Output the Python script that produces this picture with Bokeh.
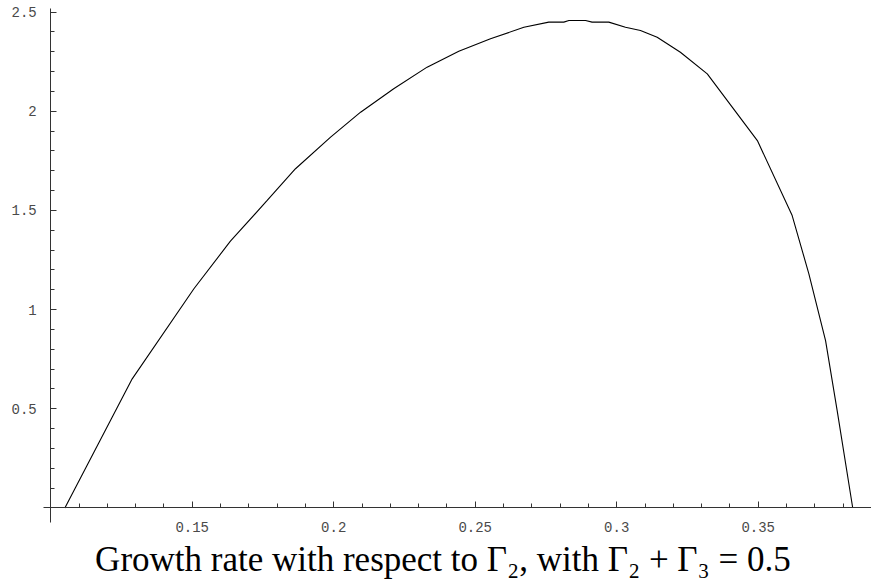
from bokeh.plotting import figure
from bokeh.models import Range1d, LinearAxis, FixedTicker, Label
from bokeh.embed import file_html
from bokeh.resources import INLINE

# ---- data ----
gamma2 = [0.1050, 0.1288, 0.1506, 0.1635, 0.1765, 0.1865, 0.1989, 0.2095, 0.2212,
          0.2330, 0.2442, 0.2554, 0.2672, 0.2760, 0.2813, 0.2831, 0.2890, 0.2913,
          0.2972, 0.3031, 0.3084, 0.3143, 0.3225, 0.3320, 0.3497, 0.3620, 0.3679,
          0.3738, 0.3779, 0.3834]
growth = [0.000, 0.651, 1.105, 1.345, 1.550, 1.710, 1.869, 1.995, 2.113,
          2.222, 2.302, 2.365, 2.423, 2.449, 2.449, 2.457, 2.457, 2.449,
          2.449, 2.423, 2.407, 2.373, 2.297, 2.188, 1.852, 1.474, 1.180,
          0.844, 0.491, 0.000]

x_ticks = [0.15, 0.2, 0.25, 0.3, 0.35]
x_tick_labels = ["0.15", "0.2", "0.25", "0.3", "0.35"]
x_minor_ticks = [0.11, 0.12, 0.13, 0.14, 0.16, 0.17, 0.18, 0.19, 0.21, 0.22, 0.23, 0.24,
                 0.26, 0.27, 0.28, 0.29, 0.31, 0.32, 0.33, 0.34, 0.36, 0.37, 0.38]
y_ticks = [0.5, 1.0, 1.5, 2.0, 2.5]
y_tick_labels = ["0.5", "1", "1.5", "2", "2.5"]
y_minor_ticks = [0.1, 0.2, 0.3, 0.4, 0.6, 0.7, 0.8, 0.9, 1.1, 1.2, 1.3, 1.4,
                 1.6, 1.7, 1.8, 1.9, 2.1, 2.2, 2.3, 2.4]
caption = "Growth rate with respect to Γ₂, with Γ₂ + Γ₃ = 0.5"

p = figure(width=871, height=586,
           x_range=Range1d(0.08226, 0.39003), y_range=Range1d(-0.3957, 2.5580),
           x_axis_type=None, y_axis_type=None,
           output_backend="svg", toolbar_location=None, min_border=0)
p.title.visible = False
p.outline_line_color = None
p.background_fill_color = "white"
p.border_fill_color = "white"

def style(ax):
    ax.axis_line_color = "#333333"
    ax.axis_line_width = 1
    ax.major_tick_line_color = "#333333"
    ax.minor_tick_line_color = "#333333"
    ax.major_tick_in = 6
    ax.major_tick_out = 0
    ax.minor_tick_in = 4
    ax.minor_tick_out = 0
    ax.major_label_text_font = "Liberation Mono"
    ax.major_label_text_font_size = "14px"
    ax.major_label_text_color = "#4a4a4a"

xaxis = LinearAxis(fixed_location=0, bounds=(0.09756, 0.39003),
                   ticker=FixedTicker(ticks=x_ticks, minor_ticks=x_minor_ticks),
                   major_label_overrides={t: s for t, s in zip(x_ticks, x_tick_labels)})
style(xaxis)
xaxis.major_label_standoff = 14
p.add_layout(xaxis, "below")

yaxis = LinearAxis(fixed_location=0.1, bounds=(-0.0716, 2.516),
                   ticker=FixedTicker(ticks=y_ticks, minor_ticks=y_minor_ticks),
                   major_label_overrides={t: s for t, s in zip(y_ticks, y_tick_labels)})
style(yaxis)
yaxis.major_label_standoff = 14
p.add_layout(yaxis, "left")

p.line(gamma2, growth, line_color="black", line_width=1.1)

title = Label(x=0.2386, y=-0.2611, text=caption, text_align="center",
              text_baseline="alphabetic", text_font="Liberation Serif",
              text_font_size="35px", text_color="black")
p.add_layout(title)

open("out.html", "w").write(file_html(p, INLINE))
